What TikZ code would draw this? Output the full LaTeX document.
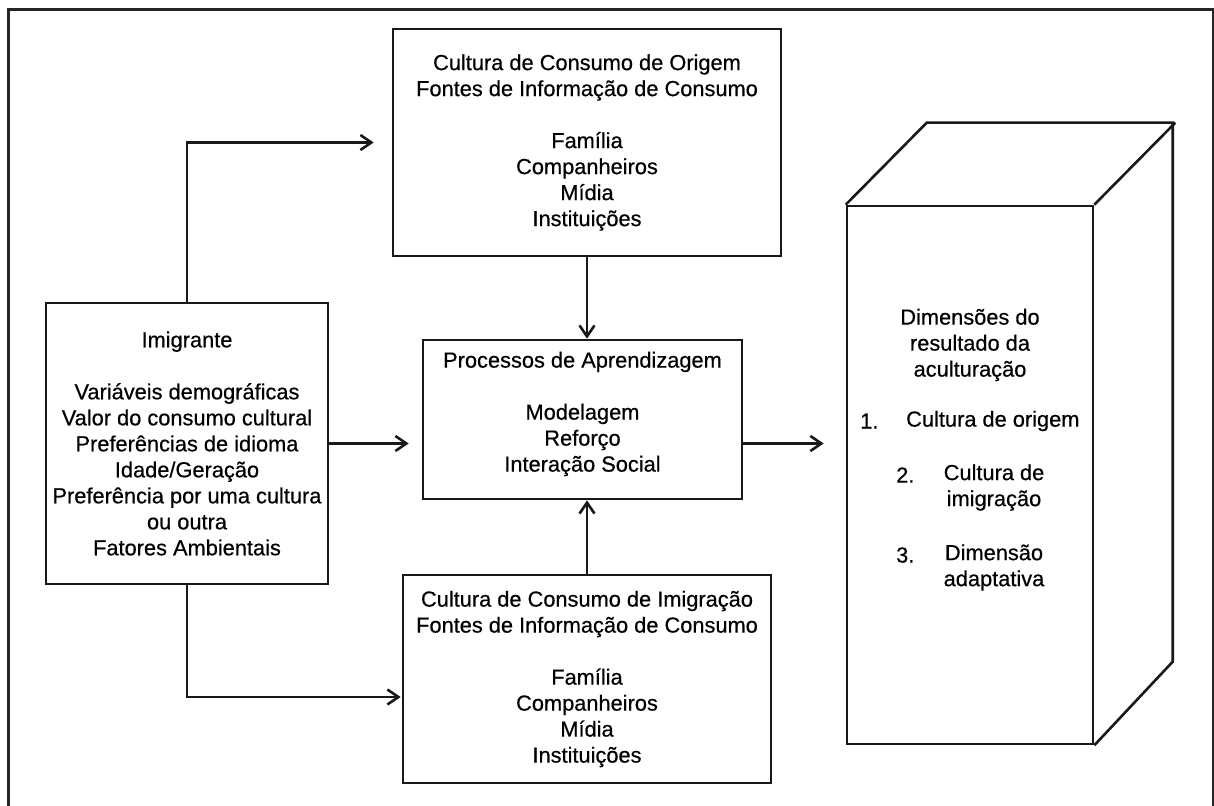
\documentclass[tikz,border=0pt]{standalone}
\usepackage{fontspec}
\setmainfont{Liberation Sans}[FakeBold=0.5]
\usetikzlibrary{arrows.meta}
\tikzset{
  box/.style={draw=black!90, line width=2.6pt, inner sep=0pt, align=center, fill=white},
  arr/.style={line width=2.6pt, draw=black!90, -{Straight Barb[length=11pt,width=15pt]}},
  conn/.style={line width=2.6pt, draw=black!90},
  txt/.style={inner sep=0pt, align=center}
}
\begin{document}
\begin{tikzpicture}[x=1pt, y=-1pt, font=\fontsize{21.8}{26}\selectfont]
\useasboundingbox (0,0) rectangle (1214,805);
% outer frame (open at bottom)
\draw[line width=3pt, draw=black!85] (8,820) -- (8,10) -- (1213,10) -- (1213,820);

% boxes
\node[box, minimum width=388pt, minimum height=227pt] (top) at (587,142.5)
 {Cultura de Consumo de Origem\\Fontes de Informação de Consumo\\[26pt]Família\\Companheiros\\Mídia\\Instituições};
\node[box, minimum width=282pt, minimum height=281pt] (imig) at (187,443.5)
 {Imigrante\\[26pt]Variáveis demográficas\\Valor do consumo cultural\\Preferências de idioma\\Idade/Geração\\Preferência por uma cultura\\ou outra\\Fatores Ambientais};
\node[box, minimum width=319pt, minimum height=159pt] (mid) at (582.5,419.5) {};
\node[txt] (midtext) at (582.5,414) {Processos de Aprendizagem\\[26pt]Modelagem\\Reforço\\Interação Social};
\node[box, minimum width=368pt, minimum height=208pt] (bot) at (587,679)
 {Cultura de Consumo de Imigração\\Fontes de Informação de Consumo\\[26pt]Família\\Companheiros\\Mídia\\Instituições};

% cube
\node[box, minimum width=246pt, minimum height=538pt] (cube) at (970,475) {};
\draw[conn, line join=miter] (cube.north west) -- ++(81,-82) -- ++(246,0) -- ++(0,539) -- (cube.south east);
\draw[conn] (cube.north east) -- ++(81,-82);

\node[txt] (dim) at (970,345) {Dimensões do\\resultado da\\aculturação};
\node[txt, anchor=west] (n1) at (860,421) {1.};
\node[txt, anchor=west] (i1) at (906,421) {Cultura de origem};
\node[txt, anchor=west] (n2) at (896,475) {2.};
\node[txt] (i2) at (994,487.5) {Cultura de\\imigração};
\node[txt, anchor=west] (n3) at (896,555) {3.};
\node[txt] (i3) at (994,567.5) {Dimensão\\adaptativa};

% connectors
\draw[arr] (top.south) -- (top.south |- mid.north);
\draw[arr] (bot.north) -- (bot.north |- mid.south);
\draw[arr, shorten >=13pt] (imig.east) -- (imig.east -| mid.west);
\draw[arr, shorten >=22pt] (mid.east |- imig.east) -- (imig.east -| cube.west);
\draw[arr, shorten >=18pt] (imig.north) |- (top.west);
\draw[arr, shorten >=1pt] (imig.south) |- ([yshift=-18pt]bot.west);
\end{tikzpicture}
\end{document}
